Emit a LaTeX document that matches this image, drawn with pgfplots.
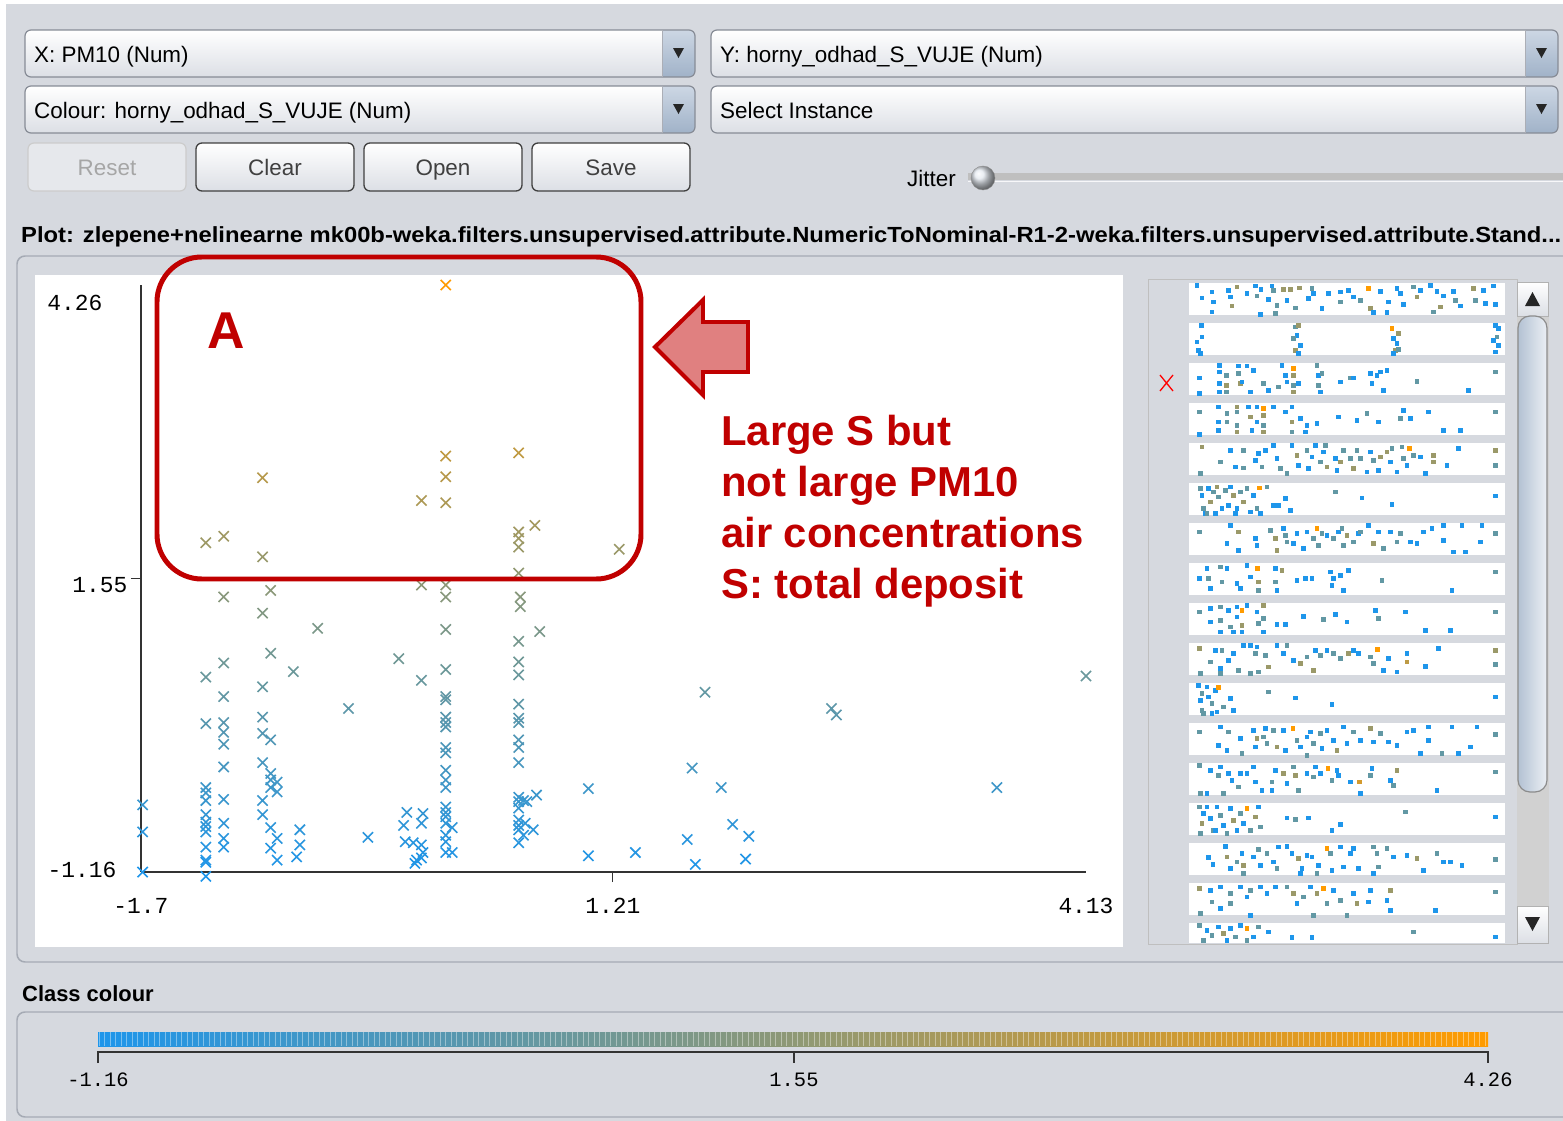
\documentclass[border=0pt]{standalone}
\usepackage{graphicx}
\usepackage{pgfplots}
\pgfplotsset{compat=1.18}
\usepackage{fontspec}
\setmainfont{Liberation Sans}
\newfontfamily\mono{Liberation Mono}
\definecolor{bg}{RGB}{214,217,223}
\definecolor{wred}{RGB}{192,0,0}
\definecolor{apink}{RGB}{224,128,128}
\definecolor{wblue}{RGB}{30,150,235}
\definecolor{worange}{RGB}{255,155,0}
\definecolor{bord}{RGB}{135,140,150}
\definecolor{btnbot}{RGB}{220,223,229}
\definecolor{arrtop}{RGB}{205,215,228}
\definecolor{arrbot}{RGB}{160,178,200}
\definecolor{panelb}{RGB}{165,170,180}
\pgfplotsset{colormap={weka}{rgb255=(30,150,235) rgb255=(255,155,0)}}
\newcommand{\guifont}{\fontsize{22.5}{26}\selectfont}
\newcommand{\combo}[5]{%
 \shade[rounded corners=6, top color=white, bottom color=btnbot] (#1,#2) rectangle (#3,#4);
 \begin{scope}
 \clip[rounded corners=6] (#1,#2) rectangle (#3,#4);
 \shade[top color=arrtop, bottom color=arrbot] ({#3-33},#2) rectangle (#3,#4);
 \end{scope}
 \draw[rounded corners=6, draw=bord, line width=1.2] (#1,#2) rectangle (#3,#4);
 \draw[bord!70] ({#3-33},#2)--({#3-33},#4);
 \fill[black!85] ({#3-22},{#2+18}) -- ({#3-11},{#2+18}) -- ({#3-16.5},{#2+28}) -- cycle;
 \node[anchor=base west, inner sep=0, font=\guifont] at ({#1+9},{#2+32}) {#5};}
\newcommand{\btn}[6]{%
 \shade[rounded corners=6, top color=white, bottom color=btnbot, draw=#6, line width=1.3] (#1,#2) rectangle (#3,#4);
 \node[anchor=base, inner sep=0, font=\guifont, text=#6] at ({(#1+#3)/2},{#2+32}) {#5};}
\begin{document}
\begin{tikzpicture}
\path[use as bounding box] (0,0) rectangle (1563bp,-1121bp);
\clip (0,0) rectangle (1563bp,-1121bp);
\begin{scope}[x=1bp,y=-1bp]
\fill[white] (0,0) rectangle (1563,1121);
\fill[bg] (6,4) rectangle (1563,1121);
% selectors
\combo{25}{30}{695}{77}{X: PM10 (Num)}
\combo{711}{30}{1558}{77}{Y: horny\_odhad\_S\_VUJE (Num)}
\combo{25}{86}{695}{133}{Colour: horny\_odhad\_S\_VUJE (Num)}
\combo{711}{86}{1558}{133}{Select Instance}
% buttons
\fill[rounded corners=6, fill=bg!60!white, draw=black!20, line width=1.2] (28,143) rectangle (186,191);
\node[anchor=base, inner sep=0, font=\guifont, text=black!35] at (107,175) {Reset};
\btn{196}{143}{354}{191}{Clear}{black!75}
\btn{364}{143}{522}{191}{Open}{black!75}
\btn{532}{143}{690}{191}{Save}{black!75}
% jitter
\node[anchor=base east, inner sep=0, font=\guifont] at (956,186) {Jitter};
\fill[black!25] (968,173) rectangle (1563,180);
\draw[white!80!bg] (968,181) -- (1563,181);
\shade[ball color=white!70!arrbot, draw=black!45] (983,178) circle (12);
% title
\node[anchor=west, inner sep=0, font=\bfseries\fontsize{22}{26}\selectfont] at (21,237) {\resizebox{1540bp}{\height}{Plot: zlepene+nelinearne mk00b-weka.filters.unsupervised.attribute.NumericToNominal-R1-2-weka.filters.unsupervised.attribute.Stand...}};
% plot panel
\draw[rounded corners=8, draw=panelb, line width=1.5, fill=bg] (17,256) rectangle (1585,962);
\fill[white] (35,275) rectangle (1123,947);
% right panel
\draw[draw=black!25, fill=bg] (1148,279) rectangle (1517,944);
\foreach \k in {0,...,16} \fill[white] (1189,{283.3+40*\k}) rectangle (1505,{min(315+40*\k,943)});
\fill[black!18] (1517,282) rectangle (1549,943);
\shade[top color=white, bottom color=btnbot, draw=black!30] (1517,282) rectangle (1548,316);
\fill[black!85] (1525,306) -- (1540,306) -- (1532.5,292) -- cycle;
\shade[rounded corners=12, left color=arrbot!80!white, right color=arrtop!40!white, draw=black!45, line width=1.2] (1518,316) rectangle (1547,792);
\shade[top color=white, bottom color=btnbot, draw=black!30] (1517,906) rectangle (1548,943);
\fill[black!85] (1525,917) -- (1540,917) -- (1532.5,931) -- cycle;
\draw[red, line width=1.3] (1160,375) -- (1173,391) (1173,375) -- (1160,391);
% class colour
\node[anchor=west, inner sep=0, font=\bfseries\fontsize{22}{26}\selectfont] at (22,994) {Class colour};
\draw[rounded corners=8, draw=panelb, line width=1.5, fill=bg] (17,1012) rectangle (1585,1117);
\shade[left color=wblue, right color=worange] (98,1032) rectangle (1488,1046);
\foreach \i in {0,...,252} \draw[white, opacity=0.4, line width=0.6bp] ({99+5.5*\i},1032) -- ({99+5.5*\i},1046);
\draw[line width=1.3, black!80] (98,1063) -- (98,1052) -- (1488,1052) -- (1488,1063) (794,1052) -- (794,1063);
\node[inner sep=0, font=\mono\fontsize{20.5}{24}\selectfont] at (98,1080) {-1.16};
\node[inner sep=0, font=\mono\fontsize{20.5}{24}\selectfont] at (794,1080) {1.55};
\node[inner sep=0, font=\mono\fontsize{20.5}{24}\selectfont] at (1488,1080) {4.26};
% main tick labels
\node[inner sep=0, font=\mono\fontsize{23}{26}\selectfont] at (75,303) {4.26};
\node[inner sep=0, font=\mono\fontsize{23}{26}\selectfont] at (100,585) {1.55};
\node[inner sep=0, font=\mono\fontsize{23}{26}\selectfont] at (82,870) {-1.16};
\node[inner sep=0, font=\mono\fontsize{23}{26}\selectfont] at (141,906) {-1.7};
\node[inner sep=0, font=\mono\fontsize{23}{26}\selectfont] at (613,906) {1.21};
\node[inner sep=0, font=\mono\fontsize{23}{26}\selectfont] at (1086,906) {4.13};
\end{scope}
% main scatter
\begin{axis}[at={(141bp,-872bp)}, anchor=south west, scale only axis,
 width=945bp, height=587bp, xmin=-1.7, xmax=4.13, ymin=-1.16, ymax=4.26,
 axis x line=bottom, axis y line=left, axis line style={-, line width=1.3bp, black!80},
 xtick={1.21}, ytick={1.55}, xticklabels={}, yticklabels={},
 tick align=outside, major tick length=10bp, tick style={line width=1.2bp, black!80},
 clip=false, colormap name=weka, point meta min=-1.16, point meta max=4.26,
 scatter/use mapped color={draw=mapped color, fill=mapped color}]
\addplot[scatter, only marks, mark=x, mark size=7.2bp, line width=1.6bp] table[row sep=\\] {
x y\\
-1.69 -0.54\\ -1.69 -0.79\\ -1.69 -1.16\\
-1.30 1.88\\ -1.30 0.64\\ -1.30 0.21\\ -1.30 -0.38\\ -1.30 -0.43\\ -1.30 -0.50\\ -1.30 -0.63\\ -1.30 -0.70\\ -1.30 -0.74\\ -1.30 -0.79\\ -1.30 -0.93\\ -1.30 -1.05\\ -1.30 -1.07\\ -1.30 -1.20\\
-1.19 1.94\\ -1.19 1.38\\ -1.19 0.77\\ -1.19 0.46\\ -1.19 0.22\\ -1.19 0.13\\ -1.19 0.02\\ -1.19 -0.19\\ -1.19 -0.49\\ -1.19 -0.71\\ -1.19 -0.85\\ -1.19 -0.93\\
-0.95 2.48\\ -0.95 1.75\\ -0.95 1.23\\ -0.95 0.55\\ -0.95 0.27\\ -0.95 0.12\\ -0.95 -0.15\\ -0.95 -0.50\\ -0.95 -0.63\\
-0.90 1.44\\ -0.90 0.86\\ -0.90 0.06\\ -0.90 -0.25\\ -0.90 -0.31\\ -0.90 -0.38\\ -0.90 -0.75\\ -0.90 -0.94\\
-0.86 -0.33\\ -0.86 -0.42\\ -0.86 -0.85\\ -0.86 -1.05\\
-0.76 0.69\\ -0.72 -0.77\\ -0.72 -0.91\\ -0.74 -1.02\\ -0.61 1.09\\ -0.42 0.35\\ -0.30 -0.84\\ -0.11 0.81\\
0.03 2.27\\ 0.03 1.49\\ 0.03 0.61\\ -0.06 -0.61\\ 0.04 -0.62\\ -0.08 -0.73\\ 0.03 -0.71\\ -0.07 -0.88\\ -0.02 -0.89\\ 0.03 -0.91\\ 0.04 -0.98\\ 0.03 -1.03\\ -0.01 -1.08\\ 0.00 -1.05\\
0.18 4.26\\ 0.18 2.68\\ 0.18 2.49\\ 0.18 2.25\\ 0.18 1.49\\ 0.18 1.38\\ 0.18 1.08\\ 0.18 0.71\\ 0.18 0.46\\ 0.18 0.43\\ 0.18 0.27\\ 0.18 0.22\\ 0.18 0.18\\ 0.18 -0.01\\ 0.18 -0.06\\ 0.18 -0.22\\ 0.18 -0.31\\ 0.18 -0.38\\ 0.18 -0.56\\ 0.18 -0.61\\ 0.18 -0.65\\ 0.18 -0.71\\ 0.18 -0.82\\ 0.18 -0.88\\ 0.18 -0.98\\ 0.22 -0.75\\ 0.22 -0.98\\
0.63 2.71\\ 0.63 1.98\\ 0.63 1.92\\ 0.63 1.84\\ 0.63 1.60\\ 0.63 0.97\\ 0.63 0.78\\ 0.63 0.66\\ 0.63 0.39\\ 0.63 0.26\\ 0.63 0.22\\ 0.63 0.06\\ 0.63 -0.01\\ 0.63 -0.15\\ 0.63 -0.47\\ 0.63 -0.51\\ 0.63 -0.57\\ 0.63 -0.68\\ 0.63 -0.73\\ 0.63 -0.77\\ 0.63 -0.89\\
0.64 1.38\\ 0.64 1.29\\ 0.73 2.04\\ 0.76 1.06\\ 0.66 -0.50\\ 0.74 -0.45\\ 0.68 -0.51\\ 0.67 -0.71\\ 0.72 -0.77\\ 0.66 -0.82\\
1.25 1.82\\ 1.06 -0.39\\ 1.06 -1.01\\ 1.35 -0.98\\ 1.70 -0.20\\ 1.78 0.50\\ 1.88 -0.38\\ 1.67 -0.86\\ 1.72 -1.09\\ 1.95 -0.72\\ 2.05 -0.83\\ 2.03 -1.04\\ 2.56 0.35\\ 2.59 0.29\\ 4.13 0.65\\ 3.58 -0.38\\
};
\end{axis}
% thumbnails
\begin{axis}[at={(1189bp,-280bp)}, anchor=north west, scale only axis,
 width=316bp, height=663bp, xmin=147, xmax=1095, ymin=15, ymax=2004, y dir=reverse,
 hide axis, colormap name=weka, point meta min=0, point meta max=1,
 scatter/use mapped color={draw=mapped color, fill=mapped color}]
\addplot[scatter, only marks, mark=square*, mark size=1.7bp, scatter src=explicit] table[row sep=\\, meta=c] {
x y c\\
170 30 0\\185 68 0\\215 50 0\\220 80 0\\215 110 0\\265 45 0\\270 65 0\\290 35 .55\\275 92 .55\\320 55 0\\345 32 0\\362 42 0\\395 32 0\\400 45 .3\\350 62 .3\\385 72 0\\410 90 .3\\430 42 .55\\450 42 .55\\478 38 .55\\440 75 0\\465 98 .3\\515 40 .3\\520 55 0\\505 70 0\\545 100 0\\565 55 0\\600 50 0\\600 80 .3\\625 45 0\\640 65 0\\660 75 .3\\685 40 1\\690 100 .55\\720 48 0\\745 80 0\\770 40 0\\780 55 0\\790 88 0\\820 35 .3\\830 65 .55\\840 45 0\\870 30 0\\890 48 0\\900 95 .55\\910 62 0\\940 48 0\\945 75 .3\\960 92 0\\1000 40 .55\\1005 75 .3\\1030 45 0\\1035 85 0\\1060 32 0\\1065 88 0\\405 115 .3\\360 118 0\\700 112 0\\740 112 0\\880 110 .3\\
183 150 0\\185 185 0\\170 200 0\\175 225 0\\180 235 0\\465 155 .3\\475 150 .55\\470 180 0\\460 190 .3\\480 210 0\\465 225 .55\\475 235 0\\755 160 1\\775 175 .55\\760 190 0\\770 205 0\\765 225 .55\\775 222 .3\\760 235 0\\1065 150 0\\1075 160 0\\1070 185 .3\\1060 195 0\\1075 210 0\\1065 230 0\\
178 308 0\\178 355 0\\237 270 0\\237 290 0\\237 325 0\\237 350 0\\258 300 .3\\258 330 .55\\258 350 .3\\295 272 0\\320 272 0\\295 295 .3\\300 325 .55\\305 320 0\\330 350 0\\340 285 0\\370 325 .3\\385 345 0\\415 335 .3\\425 270 0\\435 300 0\\440 320 0\\460 280 1\\460 300 .55\\460 330 .3\\460 350 .55\\475 325 0\\530 270 .3\\535 300 0\\535 330 .3\\540 350 0\\545 295 .3\\600 320 0\\630 308 .3\\640 308 0\\690 295 0\\695 325 0\\710 300 0\\720 290 0\\740 285 0\\730 345 0\\830 318 .3\\985 345 0\\1065 290 .3\\
178 410 .3\\178 478 0\\235 395 0\\235 440 0\\235 465 0\\260 415 .3\\260 440 .3\\290 395 .55\\290 410 .3\\290 450 .3\\290 470 .55\\325 395 0\\330 425 .55\\335 465 0\\350 395 0\\350 440 0\\370 400 1\\370 420 .55\\370 450 .3\\370 470 .55\\400 395 0\\435 410 0\\455 395 0\\455 440 .55\\455 470 .3\\480 430 0\\500 450 0\\530 445 0\\495 470 0\\595 425 0\\650 435 0\\680 415 .3\\715 440 0\\790 405 0\\780 430 .3\\810 430 0\\865 410 0\\910 465 0\\960 465 0\\1065 410 .3\\
185 515 .55\\180 595 .3\\240 560 .3\\270 525 0\\285 575 0\\310 525 .3\\310 578 .3\\345 555 0\\355 535 0\\365 575 .3\\375 525 0\\400 510 0\\410 550 0\\420 580 .3\\440 595 .3\\455 510 0\\470 540 .55\\475 570 0\\500 525 .3\\505 580 0\\515 545 0\\525 510 0\\540 560 .3\\550 530 0\\555 510 .3\\560 575 .55\\585 550 0\\590 585 0\\600 560 .55\\610 525 .3\\630 550 .3\\640 580 .55\\650 525 .3\\660 550 .3\\680 590 0\\690 530 0\\700 555 .3\\715 585 0\\720 545 .55\\740 530 .55\\750 560 0\\755 520 .3\\770 590 0\\785 515 .3\\790 550 .3\\800 570 0\\808 520 1\\820 540 .3\\840 545 0\\855 595 0\\880 540 .55\\880 560 .55\\920 570 0\\955 520 0\\1065 525 .55\\1065 570 .3\\
180 640 .3\\185 660 0\\190 700 .3\\195 715 0\\205 640 0\\210 680 .55\\220 650 .3\\230 635 .55\\235 665 .3\\245 700 0\\255 645 .3\\265 690 0\\270 635 0\\280 660 .55\\290 700 0\\300 650 .3\\310 680 .55\\320 640 .3\\330 710 0\\340 660 0\\350 700 .3\\358 638 1\\360 715 0\\380 635 .3\\400 690 0\\435 670 0\\450 705 0\\415 690 0\\585 650 .3\\665 668 0\\755 688 0\\1065 662 0\\200 715 .3\\225 715 0\\285 715 0\\
178 770 .3\\270 750 0\\295 770 .55\\260 805 0\\295 825 0\\345 790 0\\350 810 0\\390 765 .3\\405 790 .55\\410 825 .55\\430 760 0\\435 780 .3\\440 800 .3\\460 805 0\\470 775 0\\490 820 0\\500 770 0\\520 790 .3\\530 760 1\\535 810 .3\\545 775 .3\\560 780 0\\580 790 .3\\595 770 0\\605 760 .3\\610 810 .3\\620 780 .55\\640 800 .3\\655 775 0\\660 770 .3\\685 750 0\\700 805 .55\\715 770 0\\730 820 .3\\750 770 0\\770 800 .3\\780 775 .3\\810 800 0\\830 805 0\\850 770 0\\875 760 0\\910 750 0\\910 795 0\\940 830 0\\965 750 0\\975 830 0\\1020 800 0\\1025 750 0\\1065 775 .3\\
178 910 0\\200 880 0\\205 910 .3\\210 940 0\\240 875 .3\\245 920 .3\\260 880 0\\290 925 0\\300 940 0\\320 870 0\\330 905 0\\352 880 1\\355 920 .55\\355 945 .3\\405 880 0\\405 920 .3\\410 945 0\\425 885 .55\\470 915 0\\495 910 0\\515 910 0\\570 890 0\\580 910 0\\600 900 0\\625 885 0\\575 930 0\\610 945 0\\725 915 .3\\935 945 0\\1065 890 .3\\
178 1010 .3\\210 1000 0\\210 1040 0\\240 995 .3\\240 1035 .3\\240 1070 0\\265 1005 0\\270 1055 .3\\280 1070 0\\290 995 0\\290 1025 0\\305 1005 1\\305 1050 .55\\305 1070 0\\320 990 0\\350 1010 0\\355 1045 .3\\370 990 .55\\370 1030 .3\\370 1070 0\\410 1047 0\\435 1047 0\\490 1023 0\\550 1033 .3\\585 1017 0\\620 1040 0\\705 1005 0\\715 1030 .3\\795 1010 0\\855 1065 0\\930 1065 0\\1065 1010 .3\\
178 1120 .55\\180 1195 .3\\225 1125 0\\245 1125 .3\\210 1160 .3\\240 1180 0\\265 1155 0\\280 1135 0\\295 1185 .3\\310 1110 0\\330 1110 0\\350 1115 0\\345 1135 .3\\355 1190 .3\\375 1140 .3\\385 1175 .55\\410 1110 0\\440 1110 .3\\430 1135 0\\460 1155 0\\480 1165 .55\\500 1145 .3\\520 1185 .55\\525 1125 0\\540 1140 .3\\560 1125 0\\580 1135 .3\\600 1150 .3\\625 1135 .55\\640 1125 0\\655 1135 0\\690 1145 .3\\700 1165 .3\\712 1122 1\\730 1185 0\\745 1150 0\\770 1190 0\\800 1135 0\\800 1160 .7\\855 1173 0\\895 1120 0\\1065 1125 .55\\1065 1168 .3\\240 1195 .3\\330 1195 .3\\
175 1230 0\\185 1255 .3\\180 1275 0\\185 1305 .3\\200 1235 0\\205 1265 0\\215 1285 .3\\225 1245 0\\230 1310 0\\235 1237 1\\250 1295 .3\\270 1270 0\\280 1305 0\\385 1250 .3\\465 1268 0\\575 1288 0\\1065 1265 0\\190 1315 .3\\215 1315 0\\
178 1370 .3\\240 1355 0\\265 1370 .3\\235 1410 0\\260 1425 0\\300 1390 0\\305 1435 .3\\340 1365 0\\350 1390 .55\\345 1415 0\\375 1360 0\\370 1385 .3\\380 1405 .3\\400 1365 .3\\410 1415 .55\\430 1365 0\\435 1425 0\\458 1360 1\\470 1395 .3\\480 1415 0\\500 1385 0\\510 1370 0\\520 1405 .3\\540 1375 .3\\545 1420 0\\560 1365 0\\580 1395 0\\590 1425 .55\\610 1355 0\\620 1405 0\\640 1370 .3\\660 1395 0\\690 1360 .55\\700 1400 0\\720 1375 .3\\745 1400 0\\770 1410 0\\800 1370 0\\820 1365 0\\865 1355 0\\865 1395 0\\905 1435 .3\\935 1355 0\\955 1435 0\\990 1415 0\\1010 1355 0\\1065 1378 .3\\840 1435 0\\500 1440 .3\\
178 1470 .3\\180 1555 .3\\210 1485 0\\240 1475 0\\235 1500 .3\\265 1495 0\\275 1515 0\\300 1495 0\\320 1495 0\\340 1475 0\\345 1520 0\\295 1535 .3\\365 1545 0\\395 1520 .3\\395 1545 0\\405 1485 0\\430 1495 .55\\440 1525 0\\460 1475 .3\\465 1500 .55\\475 1545 .3\\500 1495 0\\520 1505 .3\\525 1475 0\\540 1495 0\\563 1480 1\\575 1515 .3\\590 1485 0\\595 1500 0\\630 1520 0\\658 1520 .8\\660 1555 0\\690 1500 .3\\695 1480 0\\750 1515 0\\760 1530 .3\\770 1485 .55\\890 1545 0\\1065 1490 .3\\200 1555 0\\250 1555 .3\\
178 1595 .3\\190 1615 0\\185 1645 .55\\180 1675 .3\\200 1595 0\\210 1630 0\\220 1665 .3\\230 1595 0\\240 1620 .3\\250 1650 0\\260 1675 .3\\270 1600 0\\280 1635 .55\\290 1665 0\\300 1615 .3\\310 1645 0\\320 1600 1\\330 1665 .3\\345 1625 .55\\355 1595 0\\360 1655 .3\\440 1628 0\\465 1633 .3\\505 1628 0\\575 1665 0\\600 1648 0\\795 1610 .3\\1065 1625 0\\225 1665 0\\
205 1747 0\\218 1767 0\\255 1713 0\\260 1745 .55\\270 1780 0\\290 1760 .3\\305 1735 0\\310 1770 .55\\340 1745 0\\355 1723 .3\\360 1770 0\\380 1735 .3\\400 1760 0\\410 1780 .3\\415 1715 0\\440 1713 0\\455 1735 0\\475 1750 .55\\485 1780 0\\500 1740 0\\515 1745 0\\535 1770 0\\560 1720 1\\570 1735 .3\\575 1785 0\\600 1715 0\\610 1775 0\\630 1735 0\\640 1720 0\\655 1780 0\\700 1715 .3\\710 1735 .3\\715 1775 .3\\740 1720 .3\\760 1745 0\\800 1740 0\\830 1750 .55\\850 1785 0\\890 1735 .3\\910 1760 0\\930 1760 0\\965 1770 0\\1065 1753 .3\\310 1795 .3\\480 1795 0\\530 1795 .3\\700 1795 0\\
178 1840 .55\\210 1845 0\\240 1835 0\\270 1855 .3\\215 1880 .3\\240 1900 0\\270 1885 .3\\300 1835 0\\320 1865 0\\330 1845 .3\\360 1835 0\\380 1855 0\\405 1835 0\\440 1835 .3\\460 1855 .55\\470 1885 0\\490 1865 .3\\510 1835 0\\530 1855 .55\\550 1840 1\\560 1885 .3\\580 1845 0\\600 1875 .3\\640 1855 0\\650 1885 .55\\690 1845 0\\685 1880 0\\740 1875 0\\750 1845 .55\\750 1905 0\\885 1905 0\\1065 1850 .3\\180 1915 .3\\330 1920 0\\520 1920 .3\\620 1920 .3\\
178 1950 .3\\200 1965 0\\215 1980 .3\\235 1955 0\\250 1975 .55\\270 1960 0\\285 1985 .3\\300 1950 0\\320 1960 1\\340 1985 0\\355 1955 .3\\385 1970 0\\455 1987 0\\515 1987 0\\820 1970 .3\\1065 1985 0\\190 1995 .3\\260 1995 0\\320 1995 .3\\
};
\end{axis}
% annotations
\begin{scope}[x=1bp,y=-1bp]
\draw[wred, line width=5, rounded corners=45] (157,257) rectangle (641,579);
\node[anchor=base west, inner sep=0, text=wred, font=\bfseries\fontsize{52}{60}\selectfont] at (207,348) {A};
\draw[wred, line width=4, fill=apink, line join=miter] (655,347) -- (703,300) -- (703,322) -- (748,322) -- (748,372) -- (703,372) -- (703,395) -- cycle;
\node[anchor=base west, inner sep=0, text=wred, font=\bfseries\fontsize{42}{50}\selectfont] at (721,445) {Large S but};
\node[anchor=base west, inner sep=0, text=wred, font=\bfseries\fontsize{42}{50}\selectfont] at (721,496) {not large PM10};
\node[anchor=base west, inner sep=0, text=wred, font=\bfseries\fontsize{42}{50}\selectfont] at (721,547) {air concentrations};
\node[anchor=base west, inner sep=0, text=wred, font=\bfseries\fontsize{42}{50}\selectfont] at (721,598) {S: total deposit};
\end{scope}
\end{tikzpicture}
\end{document}
